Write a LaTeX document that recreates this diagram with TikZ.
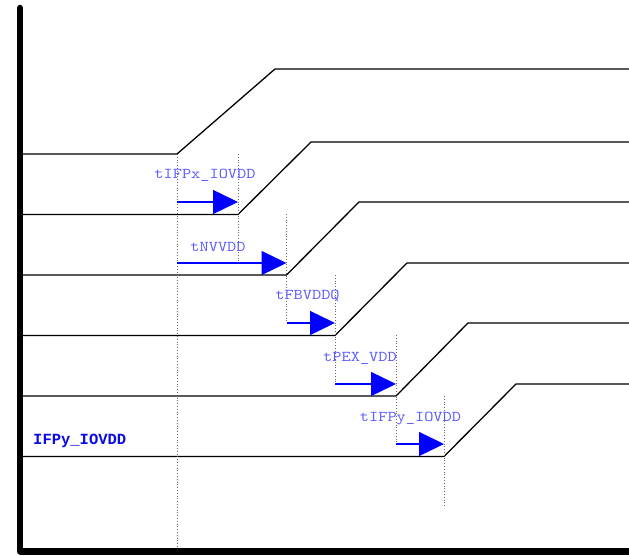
\documentclass[tikz,border=0pt]{standalone}
\usepackage{fontspec}
\newfontfamily\boldmono{Liberation Mono}
\usetikzlibrary{arrows.meta}
\definecolor{lblblue}{RGB}{90,90,255}
\definecolor{arrblue}{RGB}{0,0,255}
\definecolor{sigblue}{RGB}{10,10,230}
\newcommand{\tlbl}[1]{\scalebox{1.19}[1]{#1}}
\begin{document}
\begin{tikzpicture}[x=1pt,y=-1pt,
  wave/.style={line width=1.3pt, black},
  axisline/.style={line width=6.5pt, line join=miter},
  guide/.style={dotted, line width=0.8pt, black!60},
  tarrow/.style={arrblue, line width=1.4pt, -{Triangle[length=25pt,width=24pt]}},
  tlabel/.style={text=lblblue, font=\fontsize{15}{16}\ttfamily, inner sep=0pt, anchor=base},
  siglabel/.style={text=sigblue, font=\fontsize{15.5}{16}\boldmono\bfseries, inner sep=0pt, anchor=base west}]
\useasboundingbox (0,0) rectangle (629,556);
% waveforms
\draw[wave] (22,154) -- (177,154) -- (275,69) -- (632,69);
\draw[wave] (22,214.5) -- (238,214.5) -- (311,142) -- (632,142);
\draw[wave] (22,275) -- (286.5,275) -- (359,202) -- (632,202);
\draw[wave] (22,335.5) -- (335,335.5) -- (407,263) -- (632,263);
\draw[wave] (22,396) -- (396,396) -- (468,323) -- (632,323);
\draw[wave] (22,456.5) -- (444,456.5) -- (516,384) -- (632,384);
% guide coordinates
\coordinate (g1t) at (177,154);  \coordinate (g1b) at (177,549);
\coordinate (g2t) at (238,154);  \coordinate (g2b) at (238,263);
\coordinate (g3t) at (286.5,214); \coordinate (g3b) at (286.5,323);
\coordinate (g4t) at (335,275);  \coordinate (g4b) at (335,384);
\coordinate (g5t) at (396,335);  \coordinate (g5b) at (396,444);
\coordinate (g6t) at (444,396);  \coordinate (g6b) at (444,506);
\foreach \i in {1,...,6} \draw[guide] (g\i t) -- (g\i b);
% arrows
\coordinate (a1s) at (177,202);   \coordinate (a1e) at (238,202);
\coordinate (a2s) at (177,263);   \coordinate (a2e) at (286.5,263);
\coordinate (a3s) at (286.5,323); \coordinate (a3e) at (335,323);
\coordinate (a4s) at (335,384);   \coordinate (a4e) at (396,384);
\coordinate (a5s) at (396,444);   \coordinate (a5e) at (444,444);
\foreach \i in {1,...,5} \draw[tarrow] (a\i s) -- (a\i e);
% labels
\node[tlabel] (l1) at (205,179) {\tlbl{tIFPx\_IOVDD}};
\node[tlabel] (l2) at (218,251.7) {\tlbl{tNVVDD}};
\node[tlabel] (l3) at (307.5,299.5) {\tlbl{tFBVDDQ}};
\node[tlabel] (l4) at (360,361) {\tlbl{tPEX\_VDD}};
\node[tlabel] (l5) at (410.5,421) {\tlbl{tIFPy\_IOVDD}};
\node[siglabel] (sig) at (33,444) {IFPy\_IOVDD};
% axes
\draw[axisline, line cap=round] (20,551.5) -- (20,8);
\draw[axisline] (20,551.5) -- (632,551.5);
\end{tikzpicture}
\end{document}
